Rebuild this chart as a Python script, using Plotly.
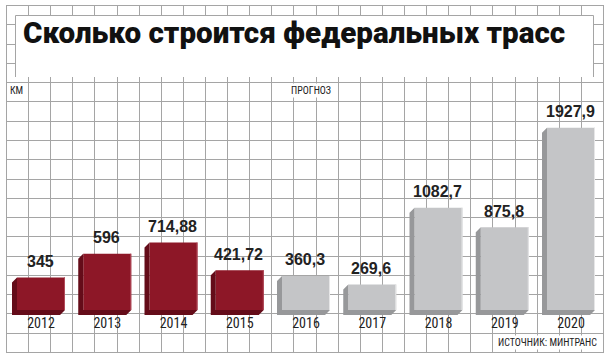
import plotly.graph_objects as go

# ---------------- data ----------------
actual_years = [2012, 2013, 2014, 2015]
actual_values = [345, 596, 714.88, 421.72]
actual_labels = ["345", "596", "714,88", "421,72"]

forecast_years = [2016, 2017, 2018, 2019, 2020]
forecast_values = [360.3, 269.6, 1082.7, 875.8, 1927.9]
forecast_labels = ["360,3", "269,6", "1082,7", "875,8", "1927,9"]

year_ticks = [2012, 2013, 2014, 2015, 2016, 2017, 2018, 2019, 2020]
year_ticktext = ["2012", "2013", "2014", "2015", "2016", "2017", "2018", "2019", "2020"]

title_text = "Сколько строится федеральных трасс"
unit_text = "КМ"
forecast_text = "ПРОГНОЗ"
source_text = "ИСТОЧНИК: МИНТРАНС"

# ---------------- layout constants ----------------
W, H = 610, 359
PX_PER_YEAR = 66.25
PX_PER_KM = 0.0945
FIRST_CENTER_PX = 41
BASE_PX = 310
BAR_PX = 48
DEPTH_PX = 5

xmin = year_ticks[0] - FIRST_CENTER_PX / PX_PER_YEAR
xmax = xmin + W / PX_PER_YEAR
ymin = -(H - BASE_PX) / PX_PER_KM
ymax = ymin + H / PX_PER_KM
bar_w = BAR_PX / PX_PER_YEAR
dx = DEPTH_PX / PX_PER_YEAR
dy = DEPTH_PX / PX_PER_KM

GRID = "#a5a5a5"
RED, RED_DARK, RED_EDGE = "#8d1727", "#640c19", "#b24a5a"
GRAY, GRAY_DARK, GRAY_EDGE = "#c4c5c7", "#97989a", "#e6e6e7"
NARROW = "Roboto Condensed, Liberation Sans Narrow, DejaVu Sans Condensed, Arial Narrow, sans-serif"


def X(px):
    return px / W


def Y(py):
    return 1 - py / H


def depth_polygon(xs, vs):
    px, py = [], []
    for x, v in zip(xs, vs):
        xl, xr = x - bar_w / 2, x + bar_w / 2
        px += [xl, xl - dx, xl - dx, xr - dx, xr, xl, xl, None]
        py += [v, v - dy, -dy, -dy, 0, 0, v, None]
    return px, py


def right_edge(xs, vs):
    px, py = [], []
    for x, v in zip(xs, vs):
        xr = x + bar_w / 2 - 0.5 / PX_PER_YEAR
        px += [xr, xr, None]
        py += [v, 0, None]
    return px, py


fig = go.Figure()

for xs, vs, front, dark, edge in [(actual_years, actual_values, RED, RED_DARK, RED_EDGE),
                                  (forecast_years, forecast_values, GRAY, GRAY_DARK, GRAY_EDGE)]:
    fig.add_trace(go.Bar(x=xs, y=vs, width=bar_w, marker=dict(color=front, line=dict(width=0)),
                         hoverinfo="skip", showlegend=False))
    px, py = depth_polygon(xs, vs)
    fig.add_trace(go.Scatter(x=px, y=py, mode="lines", fill="toself", fillcolor=dark,
                             line=dict(width=0, color=dark), hoverinfo="skip", showlegend=False))
    ex, ey = right_edge(xs, vs)
    fig.add_trace(go.Scatter(x=ex, y=ey, mode="lines", line=dict(width=1, color=edge),
                             hoverinfo="skip", showlegend=False))

annotations = []
for xs, vs, labs in [(actual_years, actual_values, actual_labels),
                     (forecast_years, forecast_values, forecast_labels)]:
    for x, v, lab in zip(xs, vs, labs):
        annotations.append(dict(x=x, y=v, xref="x", yref="y", text=lab, showarrow=False,
                                yanchor="middle", yshift=16, xshift=-1,
                                font=dict(family="Liberation Sans, Arial, sans-serif", size=16,
                                          color="#222222", weight="bold")))

annotations.append(dict(x=X(21), y=Y(33), xref="paper", yref="paper", text=title_text,
                        showarrow=False, xanchor="left", yanchor="middle",
                        font=dict(family="Roboto, Liberation Sans, sans-serif", size=29.6,
                                  color="#111111", weight=900)))
annotations.append(dict(x=X(8), y=Y(91), xref="paper", yref="paper", text=unit_text,
                        showarrow=False, xanchor="left", yanchor="middle",
                        font=dict(family=NARROW, size=10, color="#222222")))
annotations.append(dict(x=X(311), y=Y(91), xref="paper", yref="paper", text=forecast_text,
                        showarrow=False, xanchor="center", yanchor="middle", bgcolor="white",
                        borderpad=1, font=dict(family=NARROW, size=10, color="#222222")))
annotations.append(dict(x=X(599), y=Y(342), xref="paper", yref="paper", text=source_text,
                        showarrow=False, xanchor="right", yanchor="middle", bgcolor="white",
                        borderpad=1, font=dict(family=NARROW, size=10, color="#222222")))

# ---------------- decorative grid paper ----------------
GX0, GSTEP_X, GNX = 6, 22.11, 27
GY0, GSTEP_Y, GNY = 5, 19.28, 18
gx_end = GX0 + GSTEP_X * GNX
gy_end = GY0 + GSTEP_Y * GNY

shapes = []
for k in range(GNX + 1):
    xp = round(GX0 + GSTEP_X * k) + 0.5
    shapes.append(dict(type="line", xref="paper", yref="paper", x0=X(xp), x1=X(xp),
                       y0=Y(GY0), y1=Y(gy_end + 1), line=dict(color=GRID, width=1), layer="below"))
for k in range(GNY + 1):
    yp = round(GY0 + GSTEP_Y * k) + 0.5
    shapes.append(dict(type="line", xref="paper", yref="paper", x0=X(GX0), x1=X(gx_end + 1),
                       y0=Y(yp), y1=Y(yp), line=dict(color=GRID, width=1), layer="below"))
# white title panel with frame
shapes.append(dict(type="rect", xref="paper", yref="paper", x0=X(15), x1=X(594), y0=Y(15), y1=Y(77),
                   fillcolor="white", line=dict(width=0), layer="below"))
shapes.append(dict(type="path", xref="paper", yref="paper",
                   path=f"M {X(15.5)} {Y(77)} L {X(15.5)} {Y(15.5)} L {X(593.5)} {Y(15.5)} L {X(593.5)} {Y(77)}",
                   line=dict(color=GRID, width=1), layer="below"))

fig.update_layout(
    width=W, height=H, autosize=False,
    margin=dict(l=0, r=0, t=0, b=0, pad=0),
    paper_bgcolor="white", plot_bgcolor="rgba(0,0,0,0)",
    showlegend=False, barmode="overlay",
    xaxis=dict(range=[xmin, xmax], anchor="free", position=(H - BASE_PX) / H,
               tickmode="array", tickvals=year_ticks, ticktext=year_ticktext,
               ticks="", showgrid=False, zeroline=False, showline=False,
               ticklabelstandoff=3,
               tickfont=dict(family=NARROW, size=14, color="#222222"), fixedrange=True),
    yaxis=dict(range=[ymin, ymax], visible=False, fixedrange=True),
    annotations=annotations,
    shapes=shapes,
)

fig.write_html("out.html", config={"displayModeBar": False, "staticPlot": True},
               post_script="document.body.style.margin='0';document.body.style.overflow='hidden';")
